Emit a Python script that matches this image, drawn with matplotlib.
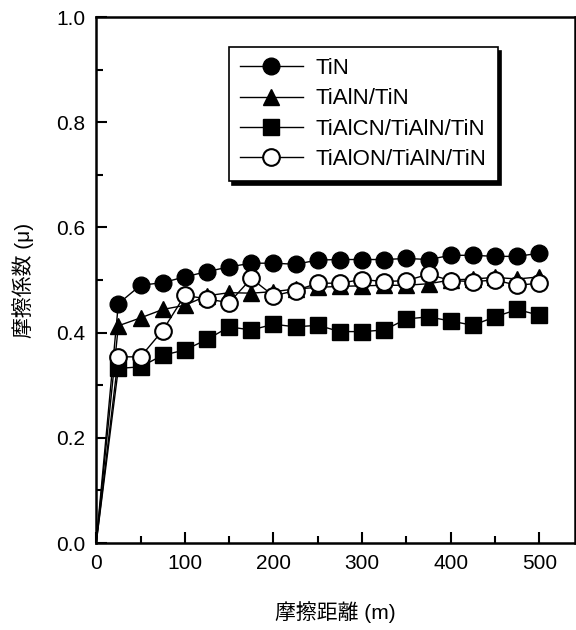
import matplotlib
matplotlib.use("Agg")
import matplotlib.pyplot as plt
import numpy as np

plt.rcParams['font.family'] = ['Liberation Sans', 'Noto Sans CJK JP']

# DATA
distance = [0, 25, 50, 75, 100, 125, 150, 175, 200, 225, 250,
            275, 300, 325, 350, 375, 400, 425, 450, 475, 500]
tin = [0, 0.455, 0.490, 0.495, 0.506, 0.516, 0.525, 0.532, 0.532, 0.530, 0.538,
       0.539, 0.539, 0.539, 0.541, 0.539, 0.547, 0.547, 0.545, 0.545, 0.551]
tialn = [0, 0.413, 0.428, 0.444, 0.452, 0.470, 0.476, 0.475, 0.478, 0.483, 0.486,
         0.488, 0.489, 0.490, 0.490, 0.493, 0.500, 0.502, 0.505, 0.502, 0.506]
tialcn = [0, 0.332, 0.335, 0.357, 0.367, 0.387, 0.411, 0.405, 0.416, 0.411, 0.414,
          0.402, 0.402, 0.405, 0.426, 0.430, 0.422, 0.414, 0.430, 0.444, 0.433]
tialon = [0, 0.354, 0.354, 0.404, 0.471, 0.464, 0.457, 0.503, 0.470, 0.480, 0.494,
          0.494, 0.501, 0.497, 0.499, 0.511, 0.499, 0.497, 0.500, 0.490, 0.494]
labels = ['TiN', 'TiAlN/TiN', 'TiAlCN/TiAlN/TiN', 'TiAlON/TiAlN/TiN']

# PLOTTING
fig = plt.figure(figsize=(5.76, 6.3), dpi=100)
ax = fig.add_axes([0.167, 0.138, 0.831, 0.835])

# no marker at the origin point, only the line starts there
mk = slice(1, None)
ax.plot(distance, tin, '-o', color='k', mfc='k', ms=12, lw=1, markevery=mk, label=labels[0])
ax.plot(distance, tialn, '-^', color='k', mfc='k', ms=12, lw=1, markevery=mk, label=labels[1])
ax.plot(distance, tialcn, '-s', color='k', mfc='k', ms=11, lw=1, markevery=mk, label=labels[2])
ax.plot(distance, tialon, '-o', color='k', mfc='white', mew=1.5, ms=12, lw=1, markevery=mk,
        label=labels[3])

ax.set_xlim(0, 540)
ax.set_ylim(0, 1.0)
ax.set_xticks(np.arange(0, 501, 100))
ax.set_xticks(np.arange(0, 501, 50), minor=True)
ax.set_yticks(np.arange(0, 1.01, 0.2))
ax.set_yticks(np.arange(0, 1.01, 0.1), minor=True)
ax.yaxis.set_major_formatter(matplotlib.ticker.FormatStrFormatter('%.1f'))
ax.tick_params(which='both', direction='in', top=False, right=False, labelsize=15, width=1.5)
ax.tick_params(which='major', length=8, pad=8)
ax.tick_params(which='minor', length=5)
for s in ax.spines.values():
    s.set_linewidth(1.8)

ax.set_xlabel('摩擦距離 (m)', fontsize=15, labelpad=20)
ax.set_ylabel('摩擦係数 (μ)', fontsize=15, labelpad=16)

# LEGEND
leg = ax.legend(loc='upper left', bbox_to_anchor=(0.278, 0.943), fontsize=16,
                handlelength=2.8, handletextpad=0.6, labelspacing=0.42, borderpad=0.5,
                borderaxespad=0, fancybox=False, edgecolor='k', framealpha=1,
                shadow={'color': 'k', 'alpha': 1, 'ox': 2, 'oy': -3})
leg.get_frame().set_linewidth(1.2)

fig.savefig("out.png", dpi=100)
